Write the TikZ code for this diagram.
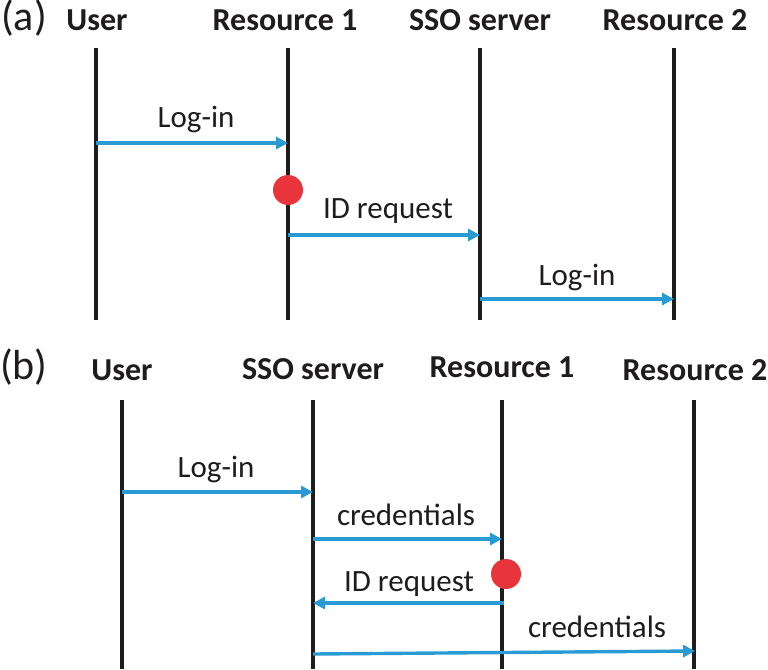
\documentclass[tikz,border=0pt]{standalone}
\usepackage{fontspec}
\setmainfont{Carlito}
\usetikzlibrary{arrows.meta}
\definecolor{msgblue}{HTML}{2A9AD5}
\definecolor{dotred}{HTML}{E8353B}
\definecolor{lineblack}{HTML}{1E1C1D}
\tikzset{
  head/.style={anchor=base, font=\fontsize{32}{32}\selectfont\bfseries, text=lineblack, inner sep=0pt},
  lbl/.style={anchor=base, font=\fontsize{31}{31}\selectfont, text=lineblack, inner sep=0pt},
  panel/.style={anchor=base west, font=\fontsize{42}{42}\selectfont, text=lineblack, inner sep=0pt},
  life/.style={line width=3.6pt, draw=lineblack},
  msg/.style={line width=3.4pt, draw=msgblue, -{Triangle[length=12pt,width=12pt]}},
  flag/.style={circle, fill=dotred, minimum size=30pt, inner sep=0pt}
}
\begin{document}
\begin{tikzpicture}[x=1pt,y=-1pt]
\useasboundingbox (0,0) rectangle (768,669);
% ---------- panel (a)
\node[panel] (pa) at (1,31) {(a)};
\node[head] (aU) at (97,31) {User};
\node[head] (aR1) at (285,31) {Resource 1};
\node[head] (aS) at (480,31) {SSO server};
\node[head] (aR2) at (675,31) {Resource 2};
\coordinate (aUt) at (96,48);   \coordinate (aUb) at (96,320);
\coordinate (aR1t) at (288,48); \coordinate (aR1b) at (288,320);
\coordinate (aSt) at (480,48);  \coordinate (aSb) at (480,320);
\coordinate (aR2t) at (674,48); \coordinate (aR2b) at (674,320);
\draw[life] (aUt) -- (aUb);
\draw[life] (aR1t) -- (aR1b);
\draw[life] (aSt) -- (aSb);
\draw[life] (aR2t) -- (aR2b);
\coordinate (am1s) at (96,143);  \coordinate (am1e) at (288,143);
\coordinate (am2s) at (288,235); \coordinate (am2e) at (480,235);
\coordinate (am3s) at (480,299); \coordinate (am3e) at (674,299);
\draw[msg] (am1s) -- (am1e);
\draw[msg] (am2s) -- (am2e);
\draw[msg] (am3s) -- (am3e);
\node[lbl] (al1) at (196,127) {Log-in};
\node[lbl] (al2) at (388,218) {ID request};
\node[lbl] (al3) at (577,285) {Log-in};
\node[flag] (adot) at (288,190) {};
% ---------- panel (b)
\node[panel] (pb) at (0,379) {(b)};
\node[head] (bU) at (122,380) {User};
\node[head] (bS) at (313,379) {SSO server};
\node[head] (bR1) at (502,377) {Resource 1};
\node[head] (bR2) at (695,380) {Resource 2};
\coordinate (bUt) at (122,400);  \coordinate (bUb) at (122,669);
\coordinate (bSt) at (313,400);  \coordinate (bSb) at (313,669);
\coordinate (bR1t) at (502,400); \coordinate (bR1b) at (502,669);
\coordinate (bR2t) at (694,400); \coordinate (bR2b) at (694,669);
\draw[life] (bUt) -- (bUb);
\draw[life] (bSt) -- (bSb);
\draw[life] (bR1t) -- (bR1b);
\draw[life] (bR2t) -- (bR2b);
\coordinate (bm1s) at (122,492); \coordinate (bm1e) at (313,492);
\coordinate (bm2s) at (313,539); \coordinate (bm2e) at (502,539);
\coordinate (bm3s) at (504,603); \coordinate (bm3e) at (313,603);
\coordinate (bm4s) at (313,654); \coordinate (bm4e) at (695,651);
\draw[msg] (bm1s) -- (bm1e);
\draw[msg] (bm2s) -- (bm2e);
\draw[msg] (bm3s) -- (bm3e);
\draw[msg] (bm4s) -- (bm4e);
\node[lbl] (bl1) at (216,477) {Log-in};
\node[lbl] (bl2) at (406,525) {credentials};
\node[lbl] (bl3) at (409,591) {ID request};
\node[lbl] (bl4) at (597,637) {credentials};
\node[flag] (bdot) at (506,574) {};
\end{tikzpicture}
\end{document}
